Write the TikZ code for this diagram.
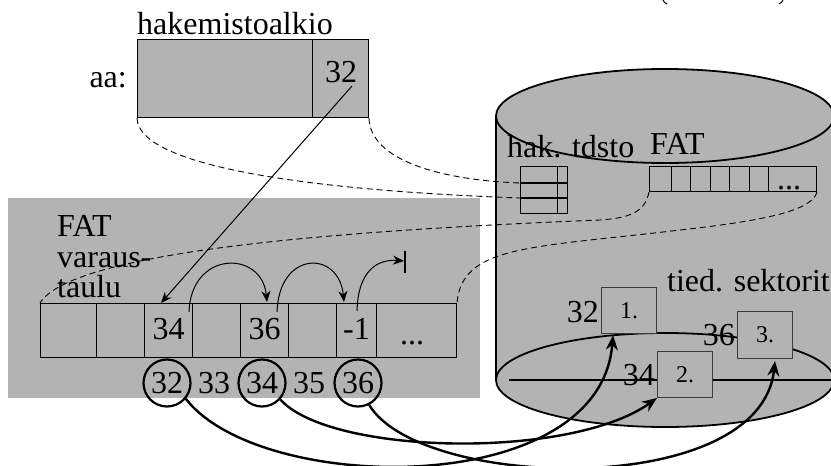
\documentclass[tikz,border=0pt]{standalone}
\usepackage{fontspec}
\setmainfont{Liberation Serif}
\usetikzlibrary{arrows.meta,calc,shapes.geometric}
\definecolor{panelgray}{RGB}{179,179,179}
\definecolor{boxedge}{RGB}{60,60,60}
\begin{document}
\begin{tikzpicture}[x=1pt,y=-1pt,
  lbl/.style={inner sep=0pt, font=\fontsize{32}{32}\selectfont},
  cell/.style={draw, line width=1pt, minimum height=54pt, inner sep=0pt, anchor=north west,
               font=\fontsize{32}{32}\selectfont, text height=22pt, text depth=5pt},
  recbox/.style={draw, fill=panelgray, line width=1pt, minimum height=78pt, inner sep=0pt, anchor=north west},
  ring/.style={draw, circle, line width=2.2pt, minimum size=47pt, inner sep=0pt, font=\fontsize{32}{32}\selectfont},
  sector/.style={draw=boxedge, fill=panelgray, line width=1pt, minimum width=55pt, minimum height=46pt,
               inner sep=0pt, anchor=north west, font=\fontsize{24}{24}\selectfont},
  dashedlink/.style={dash pattern=on 6pt off 4pt, line width=0.9pt},
  thinarrow/.style={-{Stealth[length=11pt,width=9pt]}, line width=1pt},
  bigarrow/.style={-{Stealth[length=15pt,width=12pt]}, line width=2.4pt},
  diskline/.style={line width=1.8pt}
]
\useasboundingbox (0,0) rectangle (831,466);
\clip (0,0) rectangle (831,466);

% left panel
\node[fill=panelgray, minimum width=472pt, minimum height=200pt, inner sep=0pt, anchor=north west] (panel) at (8,198) {};

% directory entry
\node[lbl, anchor=base west] (hakttl) at (137,34) {hakemistoalkio};
\node[lbl, anchor=base east] (aalbl) at (127,87) {aa:};
\node[recbox, minimum width=175pt] (recmain) at (137,39) {};
\node[recbox, minimum width=56pt] (recptr) at (312,39) {};
\node[lbl, anchor=base] (recnum) at (341,82) {32};
\coordinate (recsrc) at (352,86);

% disk cylinder
\fill[panelgray] (496,116) rectangle (840,380);
\fill[panelgray] (665,380) ellipse [x radius=169pt, y radius=47pt];
\draw[diskline] (665,380) ellipse [x radius=169pt, y radius=47pt];
\draw[diskline] (496,116) -- (496,380);
\filldraw[fill=panelgray, diskline] (665,116) ellipse [x radius=169pt, y radius=47pt];
\draw[diskline] (509,380) -- (840,380);

% labels on disk
\node[lbl, anchor=base west] (haklbl) at (507,157) {hak. tdsto};
\node[lbl, anchor=base west] (dfatlbl) at (650,154) {FAT};
\node[lbl, anchor=base east] (tiedlbl) at (830,291) {tied. sektorit};

% directory table on disk
\node[draw, line width=1pt, minimum width=47pt, minimum height=47pt, inner sep=0pt, anchor=north west] (hakt) at (520,166) {};
\draw[line width=1pt] (557,166) -- (557,213);
\draw[line width=1.8pt] (520,183) -- (567,183);
\draw[line width=1.8pt] (520,198) -- (567,198);
\coordinate (hakrow1) at (520,183);
\coordinate (hakrow2) at (520,198);

% FAT table on disk
\node[draw, line width=1pt, minimum width=167pt, minimum height=25pt, inner sep=0pt, anchor=north west] (dfat) at (649,166) {};
\foreach \xx in {671,690,710,729,749,768} \draw[line width=1pt] (\xx,166) -- (\xx,191);
\node[lbl, anchor=base] (dfatdots) at (789,189) {...};

% FAT table in panel
\node[lbl, anchor=base west] (fatl1) at (57,236) {FAT};
\node[lbl, anchor=base west] (fatl2) at (57,267) {varaus-};
\node[lbl, anchor=base west] (fatl3) at (57,297) {taulu};
\node[cell, minimum width=56pt] (c1) at (40,303) {};
\node[cell, minimum width=48pt] (c2) at (96,303) {};
\node[cell, minimum width=48pt] (c3) at (144,303) {34};
\node[cell, minimum width=48pt] (c4) at (192,303) {};
\node[cell, minimum width=48pt] (c5) at (240,303) {36};
\node[cell, minimum width=48pt] (c6) at (288,303) {};
\node[cell, minimum width=40pt] (c7) at (336,303) {-1};
\node[cell, minimum width=80pt] (c8) at (376,303) {};
\node[lbl, anchor=base] (c8dots) at (412,344) {...};

% block numbers
\node[ring] (n32) at (167,383) {32};
\node[lbl] (n33) at (214,383) {33};
\node[ring] (n34) at (262,383) {34};
\node[lbl] (n35) at (309,383) {35};
\node[ring] (n36) at (358,383) {36};

% dashed correspondences
\draw[dashedlink] (recmain.south west) .. controls (138,165) and (300,190) .. (hakrow2);
\draw[dashedlink] (recptr.south east) .. controls (370,160) and (440,180) .. (hakrow1);
\draw[dashedlink] (dfat.south west) .. controls (645,212) and (630,218) .. (600,220)
   .. controls (300,232) and (70,255) .. (c1.north west);
\draw[dashedlink] (dfat.south east) .. controls (812,210) and (770,220) .. (680,230)
   .. controls (530,248) and (462,245) .. (c8.north east);

% sectors
\node[sector] (s1) at (601,287) {1.};
\node[sector] (s2) at (657,351) {2.};
\node[sector, minimum height=47pt] (s3) at (737,311) {3.};
\node[lbl, anchor=base east] (s1n) at (599,322) {32};
\node[lbl, anchor=base east] (s2n) at (655,385) {34};
\node[lbl, anchor=base east] (s3n) at (735,345) {36};

% pointer from directory entry to FAT
\draw[thinarrow] (recsrc) -- ($(c3.north west)+(17,0)$);

% chain arcs in FAT
\draw[thinarrow] ($(c3.north east)+(-4,9)$) .. controls +(2,-62) and +(-5,-52) .. ($(c5.north west)+(27,-1)$);
\draw[thinarrow] ($(c5.north east)+(-12,9)$) .. controls +(2,-62) and +(-5,-52) .. ($(c7.north west)+(8,-1)$);
\coordinate (stopbar) at (405,262);
\draw[thinarrow] ($(c7.north west)+(21,8)$) .. controls +(1,-41) and +(-26,-2) .. ($(stopbar)+(-1,-1)$);
\draw[line width=2pt] ($(stopbar)+(0,-11)$) -- ($(stopbar)+(0,11)$);

% block to sector arrows
\draw[bigarrow] (n32.-40) .. controls (260,495) and (600,500) .. ($(s1.south west)+(12,1)$);
\draw[bigarrow] (n34.-42) .. controls (330,455) and (570,460) .. (s2.south west);
\draw[bigarrow] (n36.-63) .. controls (420,490) and (760,500) .. ($(s3.south west)+(38,2)$);

% fragments at top edge
\draw[line width=1pt] (663,0) .. controls (664,2) .. (667,4);
\draw[line width=1pt] (783,0) .. controls (782,2) .. (779,4);
\end{tikzpicture}
\end{document}
